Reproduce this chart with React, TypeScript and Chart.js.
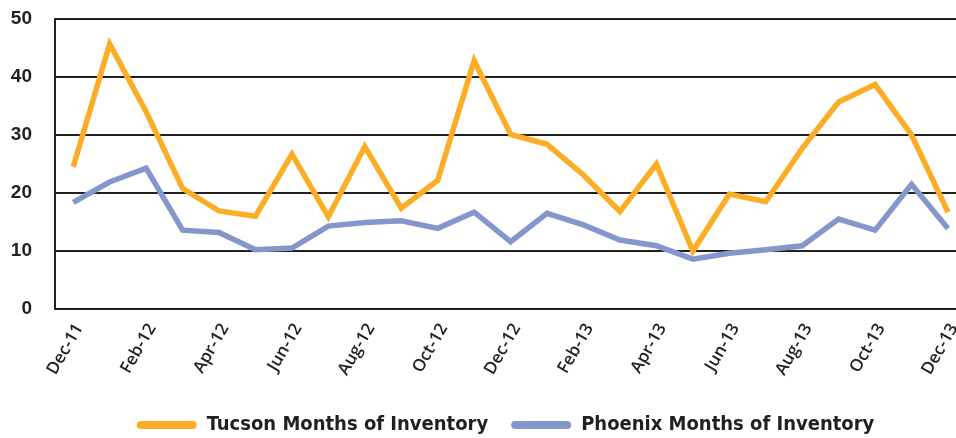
import React, { useEffect, useRef } from 'react';
import { Chart, registerables } from 'chart.js';

Chart.register(...registerables);

const months = [
  'Dec-11', 'Jan-12', 'Feb-12', 'Mar-12', 'Apr-12', 'May-12', 'Jun-12', 'Jul-12',
  'Aug-12', 'Sep-12', 'Oct-12', 'Nov-12', 'Dec-12', 'Jan-13', 'Feb-13', 'Mar-13',
  'Apr-13', 'May-13', 'Jun-13', 'Jul-13', 'Aug-13', 'Sep-13', 'Oct-13', 'Nov-13', 'Dec-13',
];

const tucson = [
  24.5, 45.7, 34.0, 20.8, 16.9, 16.0, 26.7, 15.9, 28.0, 17.4, 22.2, 42.8, 30.1,
  28.4, 23.1, 16.8, 25.0, 10.0, 19.8, 18.5, 27.7, 35.7, 38.7, 30.0, 16.7,
];

const phoenix = [
  18.4, 21.9, 24.3, 13.6, 13.2, 10.2, 10.5, 14.3, 14.9, 15.2, 13.9, 16.7, 11.6,
  16.5, 14.5, 11.9, 10.9, 8.6, 9.6, 10.2, 10.9, 15.5, 13.6, 21.5, 13.9,
];

const seriesNames = ['Tucson Months of Inventory', 'Phoenix Months of Inventory'];
const xTickIndices = months.map((_, i) => i).filter((i) => i % 2 === 0);

const ORANGE = '#FBAD26';
const BLUE = '#8596CC';
const INK = '#231F20';

export default function App() {
  const ref = useRef<HTMLCanvasElement | null>(null);

  useEffect(() => {
    if (!ref.current) return;
    const chart = new Chart(ref.current, {
      type: 'line',
      data: {
        datasets: [
          {
            label: seriesNames[0],
            data: tucson.map((v, i) => ({ x: i, y: v })),
            borderColor: ORANGE,
            backgroundColor: ORANGE,
            borderWidth: 5.5,
            pointRadius: 0,
            tension: 0,
          },
          {
            label: seriesNames[1],
            data: phoenix.map((v, i) => ({ x: i, y: v })),
            borderColor: BLUE,
            backgroundColor: BLUE,
            borderWidth: 5.5,
            pointRadius: 0,
            tension: 0,
          },
        ],
      },
      options: {
        responsive: false,
        animation: false,
        layout: { padding: { top: 19, left: 0, right: 0, bottom: -7 } },
        plugins: {
          tooltip: { enabled: false },
          legend: {
            position: 'bottom',
            fullSize: false,
            labels: {
              boxWidth: 60,
              boxHeight: 8,
              padding: 23,
              color: INK,
              useBorderRadius: true,
              borderRadius: 4,
              font: { family: "'DejaVu Sans Condensed', 'Roboto', sans-serif", weight: 'bold', size: 20 },
              generateLabels: (c: any) =>
                Chart.defaults.plugins.legend.labels
                  .generateLabels(c)
                  .map((l: any) => ({ ...l, lineWidth: 0, fillStyle: l.strokeStyle })),
            },
          },
        },
        scales: {
          x: {
            type: 'linear',
            min: -0.5,
            max: 24.22,
            grid: { display: false },
            border: { display: false },
            afterBuildTicks: (scale: any) => {
              scale.ticks = xTickIndices.map((v) => ({ value: v }));
            },
            afterFit: (scale: any) => {
              scale.height = 83;
              scale.paddingLeft = 0;
              scale.paddingRight = 0;
            },
            ticks: {
              minRotation: 60,
              maxRotation: 60,
              autoSkip: false,
              padding: 3,
              labelOffset: 6,
              color: INK,
              font: { family: "'Open Sans', sans-serif", weight: '600', size: 17 },
              callback: (v: any) => months[v as number] ?? '',
            },
          },
          y: {
            min: 0,
            max: 50,
            grid: { color: INK, lineWidth: 2, drawTicks: false },
            border: { display: true, color: INK, width: 2 },
            afterFit: (scale: any) => {
              scale.width = 55;
              scale.paddingTop = 0;
              scale.paddingBottom = 0;
            },
            ticks: {
              stepSize: 10,
              padding: 23,
              color: INK,
              font: { family: "'Liberation Sans', sans-serif", weight: 'bold', size: 19 },
            },
          },
        },
      },
    });
    return () => chart.destroy();
  }, []);

  return (
    <div style={{ position: 'absolute', left: 0, top: 0, width: 956, height: 438, background: '#fff' }}>
      <canvas ref={ref} width={956} height={438} />
    </div>
  );
}
